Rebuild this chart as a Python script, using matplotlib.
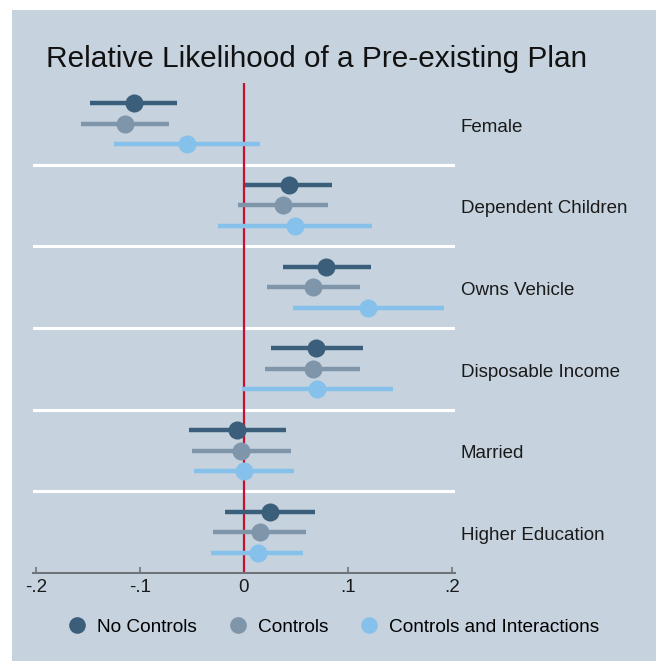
import matplotlib
matplotlib.use("Agg")
import matplotlib.pyplot as plt
import matplotlib.transforms as mtransforms
from matplotlib.patches import Rectangle
from matplotlib.lines import Line2D
import numpy as np

plt.rcParams['font.family'] = ['Liberation Sans', 'DejaVu Sans']

categories = ["Female", "Dependent Children", "Owns Vehicle",
              "Disposable Income", "Married", "Higher Education"]
series_names = ["No Controls", "Controls", "Controls and Interactions"]

est_no_controls = [-0.106, 0.043, 0.079, 0.069, -0.007, 0.025]
lo_no_controls = [-0.148, 0.001, 0.037, 0.026, -0.053, -0.018]
hi_no_controls = [-0.064, 0.085, 0.122, 0.114, 0.040, 0.068]

est_controls = [-0.114, 0.037, 0.066, 0.066, -0.003, 0.015]
lo_controls = [-0.157, -0.006, 0.022, 0.020, -0.050, -0.030]
hi_controls = [-0.072, 0.081, 0.111, 0.111, 0.045, 0.060]

est_interactions = [-0.055, 0.049, 0.119, 0.070, 0.000, 0.013]
lo_interactions = [-0.125, -0.025, 0.047, -0.002, -0.048, -0.032]
hi_interactions = [0.015, 0.123, 0.192, 0.143, 0.048, 0.057]

xticks = [-0.2, -0.1, 0, 0.1, 0.2]
xtick_labels = ["-.2", "-.1", "0", ".1", ".2"]

colors = ["#3B5F7A", "#7F95AA", "#85C1EA"]
bg = "#C6D3DF"

W, H = 657, 662
fig = plt.figure(figsize=(W / 100, H / 100), dpi=100)
fig.patch.set_facecolor("white")
fig.patches.append(Rectangle((12 / W, 1 - 661 / H), (656 - 12) / W, (661 - 10) / H,
                             transform=fig.transFigure, facecolor=bg, edgecolor="none",
                             zorder=-10))

ax = fig.add_axes([33 / W, 1 - 573 / H, (455 - 33) / W, (573 - 83) / H])
ax.set_facecolor("none")
ax.set_zorder(1)
ax.set_xlim(-0.2027, 0.2027)
ax.set_ylim(5.5, -0.5)

# separators
for i in range(1, len(categories)):
    ax.axhline(i - 0.5, color="white", lw=2.2, zorder=1)
ax.axvline(0, color="#C8102E", lw=1.6, zorder=2)

series = [
    (est_no_controls, lo_no_controls, hi_no_controls),
    (est_controls, lo_controls, hi_controls),
    (est_interactions, lo_interactions, hi_interactions),
]
offsets = [-0.25, 0.0, 0.25]
ypos = np.arange(len(categories))
for (est, lo, hi), off, c in zip(series, offsets, colors):
    y = ypos + off
    ax.hlines(y, lo, hi, color=c, lw=3.2, zorder=3)
    ax.plot(est, y, "o", color=c, ms=13, mec="none", zorder=4)

trans = mtransforms.blended_transform_factory(ax.transAxes, ax.transData)
for i, cat in enumerate(categories):
    ax.text((461 - 33) / (455 - 33), i + 0.04, cat, transform=trans, ha="left", va="center",
            fontsize=13.5, color="#1a1a1a", clip_on=False)

for s in ["top", "right", "left"]:
    ax.spines[s].set_visible(False)
ax.spines["bottom"].set_color("#6E7378")
ax.spines["bottom"].set_linewidth(1.5)
ax.set_yticks([])
ax.set_xticks(xticks)
ax.set_xticklabels(xtick_labels, fontsize=13.5, color="#1a1a1a")
ax.tick_params(axis="x", direction="in", length=4, width=1.2, color="#6E7378", pad=4)

fig.text(46 / W, 1 - 59 / H, "Relative Likelihood of a Pre-existing Plan",
         fontsize=21.4, ha="left", va="center", color="#111111")

handles = [Line2D([], [], marker="o", ls="none", color=c, ms=12, mec="none") for c in colors]
fig.legend(handles, series_names, loc="center", bbox_to_anchor=(333.5 / W, 1 - 627 / H),
           ncol=3, frameon=False, fontsize=13.7, handletextpad=0.55, columnspacing=1.65,
           handlelength=1.0)

fig.savefig("out.png", dpi=100, facecolor="white")
